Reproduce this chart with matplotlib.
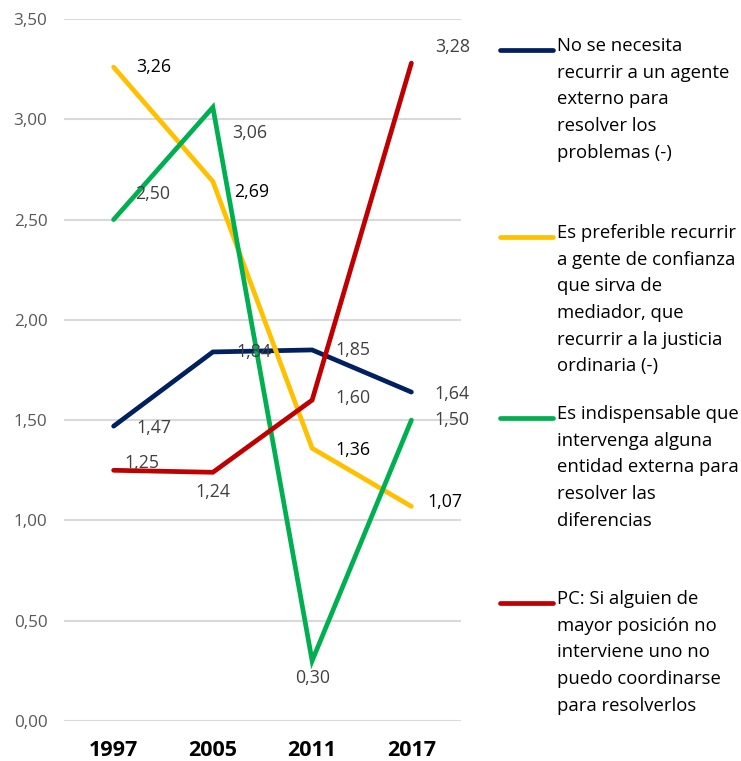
import matplotlib.pyplot as plt
from matplotlib.lines import Line2D

plt.rcParams['font.family'] = ['Open Sans', 'DejaVu Sans']

years = ["1997", "2005", "2011", "2017"]

no_agente = [1.47, 1.84, 1.85, 1.64]
gente_confianza = [3.26, 2.69, 1.36, 1.07]
entidad_externa = [2.50, 3.06, 0.30, 1.50]
pc_posicion = [1.25, 1.24, 1.60, 3.28]

series_names = [
    "No se necesita\nrecurrir a un agente\nexterno para\nresolver los\nproblemas (-)",
    "Es preferible recurrir\na gente de confianza\nque sirva de\nmediador, que\nrecurrir a la justicia\nordinaria (-)",
    "Es indispensable que\nintervenga alguna\nentidad externa para\nresolver las\ndiferencias",
    "PC: Si alguien de\nmayor posición no\ninterviene uno no\npuedo coordinarse\npara resolverlos",
]
colors = ["#002060", "#FFC000", "#00B050", "#C00000"]
label_colors = ["#404040", "#000000", "#404040", "#404040"]

# label offsets in pixels (dx, dy) for each point
offsets = [
    [(23, -2), (23, 0), (23, 0), (23, -2)],
    [(23, 0), (21, -11), (23, -2), (16, 4)],
    [(21, 26), (19, -26), (0, -17), (23, 0)],
    [(11, 7), (0, -20), (23, 2), (24, 16)],
]

fig = plt.figure(figsize=(7.41, 7.61), dpi=100)
ax = fig.add_axes([64 / 741, 1 - 721 / 761, (461 - 64) / 741, (721 - 19) / 761])

data = [no_agente, gente_confianza, entidad_externa, pc_posicion]
x = range(len(years))
for vals, c, lc, offs in zip(data, colors, label_colors, offsets):
    ax.plot(x, vals, color=c, linewidth=3.4, solid_capstyle='round', solid_joinstyle='miter', zorder=3)
    for xi, v, (dx, dy) in zip(x, vals, offs):
        ha = 'center' if dx == 0 else 'left'
        ax.annotate(f"{v:.2f}".replace(".", ","), (xi, v), xytext=(dx, dy),
                    textcoords='offset pixels', ha=ha, va='center',
                    fontsize=12.8, color=lc, zorder=4)

ax.set_xlim(-0.5, 3.5)
ax.set_ylim(0, 3.5)
ax.set_yticks([0, 0.5, 1.0, 1.5, 2.0, 2.5, 3.0, 3.5])
ax.set_yticklabels([f"{t:.2f}".replace(".", ",") for t in ax.get_yticks()], fontsize=12.3, color="#595959")
ax.set_xticks(list(x))
ax.set_xticklabels(years, fontsize=15.5, fontweight='bold', color="#000000")
ax.tick_params(axis='both', length=0)
ax.tick_params(axis='y', pad=12)
ax.tick_params(axis='x', pad=14)
ax.grid(axis='y', color="#D9D9D9", linewidth=1.5)
ax.set_axisbelow(True)
for s in ax.spines.values():
    s.set_visible(False)

# legend drawn by hand so the entries sit like the original
legend_y = [50, 237, 418, 603]
for name, c, y in zip(series_names, colors, legend_y):
    fy = 1 - y / 761
    fig.add_artist(Line2D([500 / 741, 553 / 741], [fy, fy], color=c, linewidth=3.4,
                          solid_capstyle='round', transform=fig.transFigure))
    fig.text(557 / 741, fy + 13 / 761, name, ha='left', va='top', fontsize=13.3,
             color="#000000", linespacing=1.62)

fig.savefig("out.png", dpi=100)
